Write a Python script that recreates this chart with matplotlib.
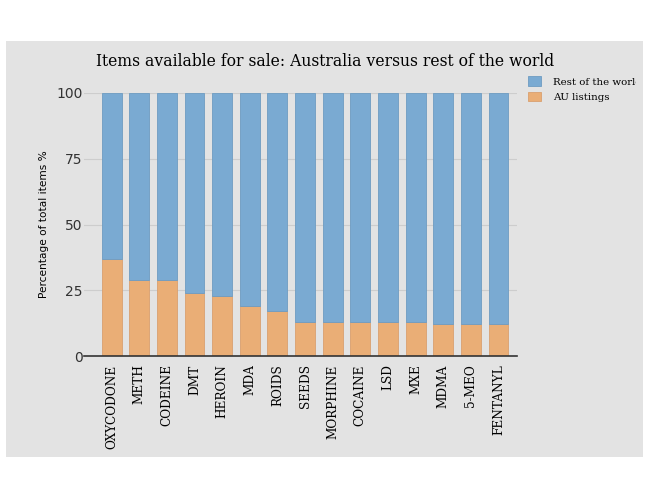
import matplotlib.pyplot as plt
import numpy as np
from matplotlib.patches import Rectangle
from matplotlib.transforms import Bbox, TransformedBbox

drugs = ["OXYCODONE", "METH", "CODEINE", "DMT", "HEROIN", "MDA", "ROIDS", "SEEDS",
         "MORPHINE", "COCAINE", "LSD", "MXE", "MDMA", "5-MEO", "FENTANYL"]
au = [37, 29, 29, 24, 23, 19, 17, 13, 13, 13, 13, 13, 12, 12, 12]
rest = [100 - v for v in au]

bg = "#e3e3e3"
fig = plt.figure(figsize=(6.5, 4.88), dpi=100, facecolor="white")
fig.patches.append(Rectangle((6 / 650, 1 - 457 / 488), 637 / 650, 416 / 488,
                             transform=fig.transFigure, facecolor=bg, edgecolor="none", zorder=-5))

ax = fig.add_axes([84 / 650, 1 - 356 / 488, 433 / 650, 263 / 488])
ax.set_facecolor(bg)
x = np.arange(len(drugs))
ax.bar(x, au, width=0.72, color="#eaae76", edgecolor="#d9a070", linewidth=0.6,
       label="AU listings", zorder=2)
ax.bar(x, rest, bottom=au, width=0.72, color="#7aaad2", edgecolor="#6e9cc2",
       linewidth=0.6, label="Rest of the world", zorder=2)

ax.set_xlim(-1.0, 14.67)
ax.set_ylim(0, 100)
ax.set_yticks([0, 25, 50, 75, 100])
ax.yaxis.grid(True, color="#cdcdcd", linewidth=0.8, zorder=0)
for s in ["top", "right", "left"]:
    ax.spines[s].set_visible(False)
ax.spines["bottom"].set_color("#333333")
ax.spines["bottom"].set_linewidth(1.2)
ax.tick_params(axis="x", length=0, pad=6)
ax.tick_params(axis="y", length=0, pad=1, labelsize=10, labelcolor="#333333")
ax.set_xticks(x)
ax.set_xticklabels(drugs, rotation=90, family="DejaVu Serif", fontsize=8.7)
ax.set_ylabel("Percentage of total items %", fontsize=7.6, labelpad=5)
fig.text(0.5, 1 - 62 / 488, "Items available for sale: Australia versus rest of the world",
         family="DejaVu Serif", fontsize=11.25, ha="center", va="center")

h, l = ax.get_legend_handles_labels()
leg = ax.legend(h[::-1], l[::-1], loc="upper left", bbox_to_anchor=(1.004, 1.098), frameon=False,
                prop={"family": "DejaVu Serif", "size": 7.4}, handlelength=1.3, handleheight=1.0,
                labelspacing=0.55, handletextpad=1.1)
clip = TransformedBbox(Bbox([[0, 0], [636 / 650, 1]]), fig.transFigure)
for t in leg.get_texts():
    t.set_clip_box(clip)
    t.set_clip_on(True)

fig.savefig("out.png", dpi=100, facecolor="white")
